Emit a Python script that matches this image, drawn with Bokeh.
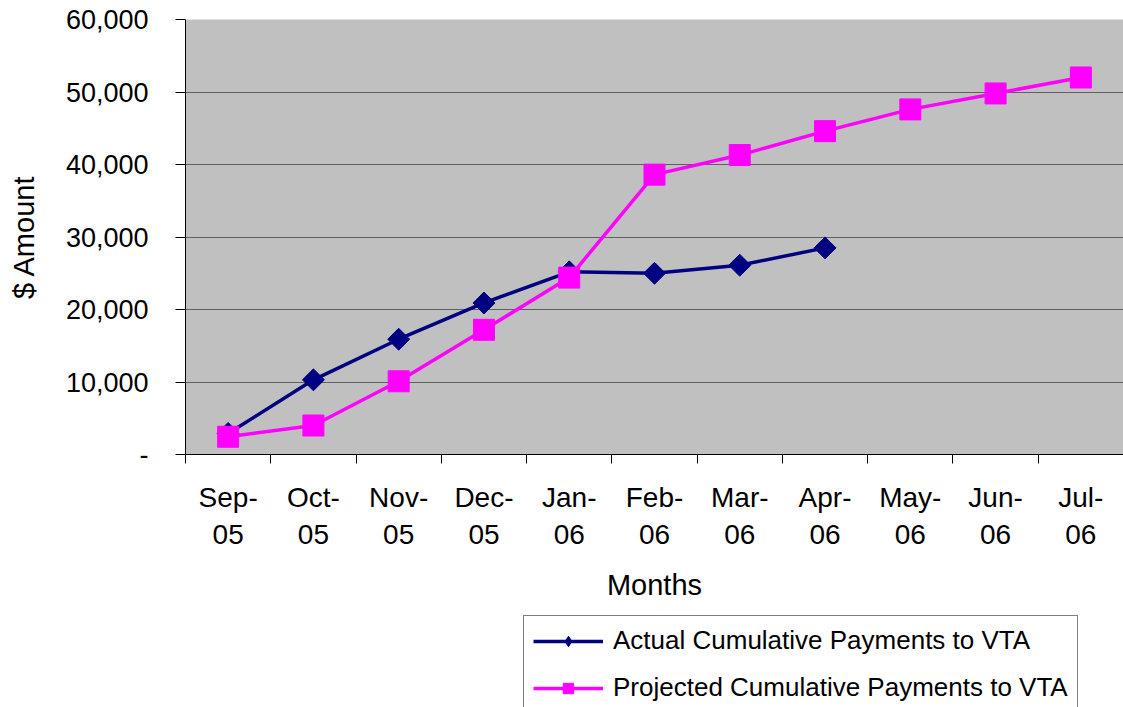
from bokeh.plotting import figure
from bokeh.layouts import column
from bokeh.models import (FactorRange, Range1d, LinearAxis, FixedTicker,
                          NumeralTickFormatter, Grid, Legend, LegendItem)
from bokeh.embed import file_html
from bokeh.resources import INLINE
import numpy as np

# ---- data ----
months = ["Sep-05", "Oct-05", "Nov-05", "Dec-05", "Jan-06", "Feb-06",
          "Mar-06", "Apr-06", "May-06", "Jun-06", "Jul-06"]
actual_months = months[:8]
actual = [2900, 10300, 15900, 20900, 25200, 25000, 26100, 28500]
projected = [2450, 4000, 10100, 17200, 24400, 38600, 41300, 44600, 47600, 49800, 52000]
y_ticks = [0, 10000, 20000, 30000, 40000, 50000, 60000]
actual_label = "Actual Cumulative Payments to VTA"
projected_label = "Projected Cumulative Payments to VTA"

FONT = "Liberation Sans"
NAVY = "#000080"
MAGENTA = "#FF00FF"

p = figure(width=1123, height=604,
           x_range=FactorRange(factors=months, range_padding=0),
           y_range=Range1d(0, 60000),
           x_axis_location=None, y_axis_location=None,
           output_backend="svg", toolbar_location=None,
           min_border_left=185, min_border_right=0, min_border_top=19, min_border_bottom=150,
           background_fill_color="#C0C0C0", border_fill_color="white",
           outline_line_color=None)
p.xgrid.visible = False
p.ygrid.visible = False

# ---- y axis ----
yax = LinearAxis(ticker=FixedTicker(ticks=y_ticks),
                 formatter=NumeralTickFormatter(format="0,0"),
                 major_label_overrides={0: "-"},
                 axis_label="$ Amount")
yax.axis_line_color = "black"
yax.major_tick_in = 0
yax.major_tick_out = 10
yax.minor_tick_in = 0
yax.minor_tick_out = 0
yax.major_label_standoff = 27
yax.major_label_text_font = FONT
yax.major_label_text_font_size = "27px"
yax.major_label_text_color = "black"
yax.axis_label_text_font = FONT
yax.axis_label_text_font_size = "29px"
yax.axis_label_text_font_style = "normal"
yax.axis_label_text_color = "black"
yax.axis_label_standoff = 23
p.add_layout(yax, "left")

p.add_layout(Grid(dimension=1, ticker=FixedTicker(ticks=y_ticks),
                  grid_line_color="#606060", grid_line_width=1))

# ---- x axes: category labels on two lines, ticks at category boundaries ----
n = len(months)
centers = [i + 0.5 for i in range(n)]
bounds = list(range(n + 1))
top_labels = [m.split("-")[0] + "-" for m in months]
bottom_labels = [m.split("-")[1] for m in months]

ax1 = LinearAxis(ticker=FixedTicker(ticks=centers, minor_ticks=bounds),
                 major_label_overrides=dict(zip(centers, top_labels)))
ax1.axis_line_color = "black"
ax1.major_tick_line_color = None
ax1.major_tick_in = 0
ax1.major_tick_out = 0
ax1.minor_tick_in = 0
ax1.minor_tick_out = 9
ax1.minor_tick_line_color = "black"
ax1.major_label_standoff = 18
ax1.major_label_text_font = FONT
ax1.major_label_text_font_size = "28px"
ax1.major_label_text_color = "black"
p.add_layout(ax1, "below")

ax2 = LinearAxis(ticker=FixedTicker(ticks=centers),
                 major_label_overrides=dict(zip(centers, bottom_labels)),
                 axis_label="Months")
ax2.axis_line_color = None
ax2.major_tick_line_color = None
ax2.minor_tick_line_color = None
ax2.major_tick_in = 0
ax2.major_tick_out = 0
ax2.minor_tick_in = 0
ax2.minor_tick_out = 0
ax2.major_label_standoff = 9
ax2.major_label_text_font = FONT
ax2.major_label_text_font_size = "28px"
ax2.major_label_text_color = "black"
ax2.axis_label_text_font = FONT
ax2.axis_label_text_font_size = "29px"
ax2.axis_label_text_font_style = "normal"
ax2.axis_label_text_color = "black"
ax2.axis_label_standoff = 22
p.add_layout(ax2, "below")

# ---- series ----
line_style_a = dict(line_color=NAVY, line_width=3.5)
pts_style_a = dict(marker="square", angle=np.pi / 4, size=15.5, fill_color=NAVY, line_color=NAVY)
line_style_p = dict(line_color=MAGENTA, line_width=3.5)
pts_style_p = dict(marker="square", size=21, fill_color=MAGENTA, line_color=MAGENTA)

p.line(actual_months, actual, **line_style_a)
p.scatter(actual_months, actual, **pts_style_a)
p.line(months, projected, **line_style_p)
p.scatter(months, projected, **pts_style_p)

# ---- legend strip below the chart (swatch renderers hold no visible data) ----
lp = figure(width=1123, height=103, x_axis_location=None, y_axis_location=None,
            output_backend="svg", toolbar_location=None,
            min_border_left=185, min_border_right=0, min_border_top=0, min_border_bottom=0,
            background_fill_color="white", border_fill_color="white",
            outline_line_color=None)
lp.xgrid.visible = False
lp.ygrid.visible = False
nan = [float("nan")]
la_line = lp.line(nan, nan, **line_style_a)
la_pts = lp.scatter(nan, nan, marker="diamond", fill_color=NAVY, line_color=NAVY)
lpr_line = lp.line(nan, nan, **line_style_p)
lpr_pts = lp.scatter(nan, nan, **pts_style_p)

legend = Legend(items=[LegendItem(label=actual_label, renderers=[la_line, la_pts]),
                       LegendItem(label=projected_label, renderers=[lpr_line, lpr_pts])],
                location=(338, -6), orientation="vertical",
                border_line_color="black", border_line_width=1,
                background_fill_color="white", background_fill_alpha=1.0,
                label_text_font=FONT, label_text_font_size="26px",
                label_text_color="black",
                glyph_width=70, glyph_height=26, label_height=26,
                label_standoff=10, padding=9, spacing=16, margin=0)
lp.add_layout(legend)

layout = column(p, lp, spacing=0)
open("out.html", "w").write(file_html(layout, INLINE))
